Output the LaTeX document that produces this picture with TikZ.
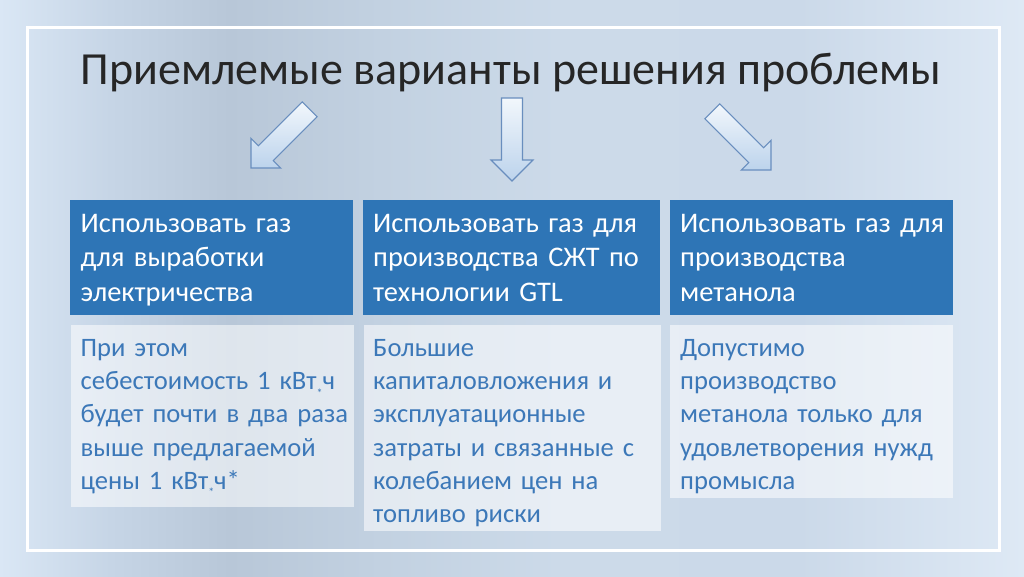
\documentclass[tikz,border=0pt]{standalone}
\usepackage{fontspec}
\setmainfont{Carlito}
\definecolor{hdr}{RGB}{46,117,182}
\definecolor{bodytxt}{RGB}{60,120,184}
\definecolor{arrline}{RGB}{105,142,190}
\definecolor{arrfillA}{RGB}{242,247,252}
\definecolor{arrfillB}{RGB}{188,211,236}
\definecolor{bgA}{RGB}{218,231,245}
\definecolor{bgB}{RGB}{198,213,230}
\definecolor{bgC}{RGB}{184,199,216}
\definecolor{bgD}{RGB}{194,209,225}
\definecolor{bgE}{RGB}{204,218,233}
\definecolor{bgF}{RGB}{203,217,233}
\definecolor{bgG}{RGB}{222,233,245}
\pgfdeclarehorizontalshading{bgshade}{100bp}{color(0bp)=(bgA); color(25bp)=(bgA); color(30.4bp)=(bgB); color(36.2bp)=(bgC); color(43.6bp)=(bgD); color(52.3bp)=(bgE); color(64bp)=(bgF); color(75bp)=(bgG); color(100bp)=(bgG)}
\newcommand{\kwh}{кВт\raisebox{-0.28em}{\fontsize{12}{12}\selectfont *}ч}
\tikzset{
  hdrbox/.style={draw=none, fill=hdr, rectangle, anchor=north west, inner sep=0pt},
  bodybox/.style={draw=none, fill=white, fill opacity=0.55, rectangle, anchor=north west, inner sep=0pt},
  hdrtext/.style={anchor=base west, inner sep=0pt, text=white, text width=282pt, align=left,
     font=\fontsize{28.4}{34.7}\selectfont},
  bodytext/.style={anchor=base west, inner sep=0pt, text=bodytxt, text width=282pt, align=left,
     font=\fontsize{26.6}{33.2}\selectfont},
  arrowshape/.style={draw=arrline, line width=1.1pt, line join=miter, top color=arrfillA, bottom color=arrfillB},
  blockarr/.pic={
    \path[arrowshape] (0,0) -- (-21,-21) -- (-10.5,-21) -- (-10.5,-83) -- (10.5,-83) -- (10.5,-21) -- (21,-21) -- cycle;
  }
}
\begin{document}
\begin{tikzpicture}[x=1pt, y=-1pt]
\useasboundingbox (0,0) rectangle (1024,576);
\shade[shading=bgshade] (0,0) rectangle (1024,576);
\draw[white, line width=3pt] (27,27) rectangle (999,550);

\node[anchor=base, inner sep=0pt, font=\fontsize{46}{52}\selectfont, text=black!85] (title) at (511,84) {Приемлемые варианты решения проблемы};

\pic[rotate=-45] (arrL) at (251,168) {blockarr};
\pic (arrM) at (512,181) {blockarr};
\pic[rotate=45] (arrR) at (771,170) {blockarr};

\node[hdrbox, minimum width=283pt, minimum height=115pt] (h1) at (70,200) {};
\node[hdrbox, minimum width=297pt, minimum height=115pt] (h2) at (363,200) {};
\node[hdrbox, minimum width=283pt, minimum height=115pt] (h3) at (670,200) {};

\node[bodybox, minimum width=283pt, minimum height=182pt] (b1) at (71,325) {};
\node[bodybox, minimum width=297pt, minimum height=206pt] (b2) at (364,325) {};
\node[bodybox, minimum width=283pt, minimum height=173pt] (b3) at (670,325) {};

\node[hdrtext] (t1) at (80.5,232) {Использовать газ\\для выработки\\электричества};
\node[hdrtext] (t2) at (373,232) {Использовать газ для\\производства СЖТ по\\технологии GTL};
\node[hdrtext] (t3) at (680,232) {Использовать газ для\\производства\\метанола};

\node[bodytext] (s1) at (80.5,356.5) {При этом\\себестоимость 1 \kwh\\будет почти в два раза\\выше предлагаемой\\цены 1 \kwh*};
\node[bodytext] (s2) at (373,356.5) {Большие\\капиталовложения и\\эксплуатационные\\затраты и связанные с\\колебанием цен на\\топливо риски};
\node[bodytext] (s3) at (680,356.5) {Допустимо\\производство\\метанола только для\\удовлетворения нужд\\промысла};
\end{tikzpicture}
\end{document}
